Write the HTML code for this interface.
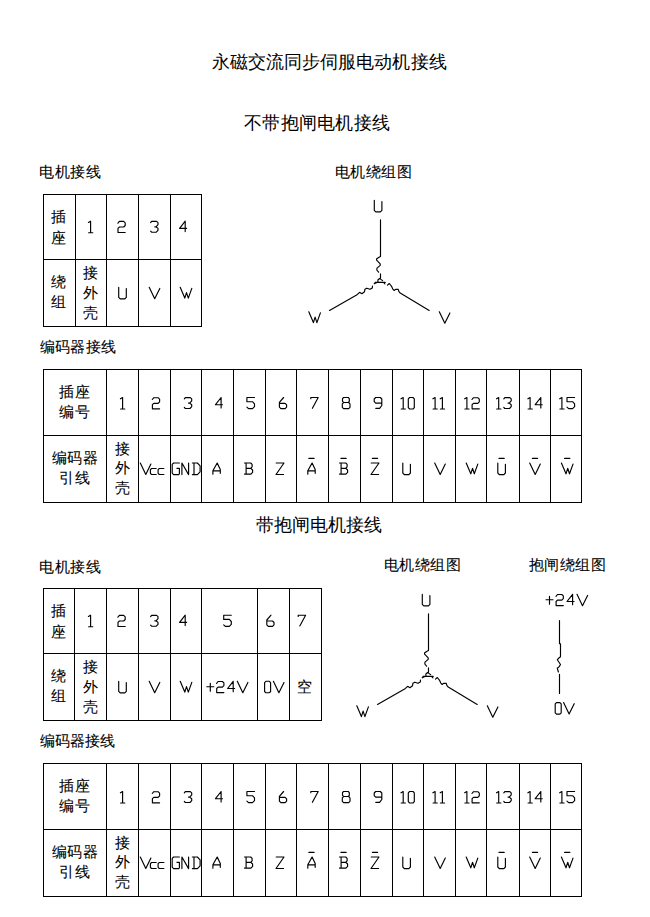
<!DOCTYPE html>
<html><head><meta charset="utf-8">
<style>
html,body{margin:0;padding:0;background:#fff;}
body{width:650px;height:917px;position:relative;overflow:hidden;}
.t{position:absolute;white-space:nowrap;line-height:1;font-family:"Liberation Sans",sans-serif;color:#000;}
.h{-webkit-text-stroke:0.08px #000;}
.c{-webkit-text-stroke:0.08px #000;}
svg{position:absolute;left:0;top:0;}
</style></head><body>
<svg width="650" height="917" viewBox="0 0 650 917">
<g fill="#000" shape-rendering="crispEdges"><rect x="43" y="194" width="159" height="1"/><rect x="43" y="259" width="159" height="1"/><rect x="43" y="326" width="159" height="1"/><rect x="43" y="194" width="1" height="133"/><rect x="75" y="194" width="1" height="133"/><rect x="106" y="194" width="1" height="133"/><rect x="138" y="194" width="1" height="133"/><rect x="170" y="194" width="1" height="133"/><rect x="201" y="194" width="1" height="133"/><rect x="43" y="588" width="279" height="1"/><rect x="43" y="653" width="279" height="1"/><rect x="43" y="720" width="279" height="1"/><rect x="43" y="588" width="1" height="133"/><rect x="74" y="588" width="1" height="133"/><rect x="106" y="588" width="1" height="133"/><rect x="138" y="588" width="1" height="133"/><rect x="170" y="588" width="1" height="133"/><rect x="201" y="588" width="1" height="133"/><rect x="257" y="588" width="1" height="133"/><rect x="289" y="588" width="1" height="133"/><rect x="321" y="588" width="1" height="133"/><rect x="43" y="369" width="539" height="1"/><rect x="43" y="435" width="539" height="1"/><rect x="43" y="502" width="539" height="1"/><rect x="43" y="369" width="1" height="134"/><rect x="106" y="369" width="1" height="134"/><rect x="138" y="369" width="1" height="134"/><rect x="170" y="369" width="1" height="134"/><rect x="201" y="369" width="1" height="134"/><rect x="233" y="369" width="1" height="134"/><rect x="265" y="369" width="1" height="134"/><rect x="296" y="369" width="1" height="134"/><rect x="328" y="369" width="1" height="134"/><rect x="360" y="369" width="1" height="134"/><rect x="392" y="369" width="1" height="134"/><rect x="423" y="369" width="1" height="134"/><rect x="455" y="369" width="1" height="134"/><rect x="486" y="369" width="1" height="134"/><rect x="519" y="369" width="1" height="134"/><rect x="550" y="369" width="1" height="134"/><rect x="581" y="369" width="1" height="134"/><rect x="43" y="763" width="539" height="1"/><rect x="43" y="829" width="539" height="1"/><rect x="43" y="896" width="539" height="1"/><rect x="43" y="763" width="1" height="134"/><rect x="106" y="763" width="1" height="134"/><rect x="138" y="763" width="1" height="134"/><rect x="170" y="763" width="1" height="134"/><rect x="201" y="763" width="1" height="134"/><rect x="233" y="763" width="1" height="134"/><rect x="265" y="763" width="1" height="134"/><rect x="296" y="763" width="1" height="134"/><rect x="328" y="763" width="1" height="134"/><rect x="360" y="763" width="1" height="134"/><rect x="392" y="763" width="1" height="134"/><rect x="423" y="763" width="1" height="134"/><rect x="455" y="763" width="1" height="134"/><rect x="486" y="763" width="1" height="134"/><rect x="519" y="763" width="1" height="134"/><rect x="550" y="763" width="1" height="134"/><rect x="581" y="763" width="1" height="134"/></g>
<g fill="none" stroke="#000" stroke-width="1.15" stroke-linejoin="round" stroke-linecap="round"><path transform="translate(88.40,221.20)" d="M0,1.3 L2.2,0 V11.5 M0.2,11.5 H4.4"/><path transform="translate(117.90,221.20)" d="M0,2 L1.5,0.2 H5.8 L7.3,1.6 V4.3 L5.8,5.8 H1.5 L0.1,7.2 V11.3 H7.3"/><path transform="translate(150.60,221.20)" d="M0,1.4 L1,0.1 H6 L7.4,1.4 V3.4 L5.4,5.6 M4.2,5.6 H5.4 L7.4,7.2 V9.2 L5.7,11 H1 L0,9.9"/><path transform="translate(179.60,221.20)" d="M7,7.2 H0 L5.6,0 V10.4"/><path transform="translate(118.70,287.30)" d="M0,0 V10 L1.5,11.6 H6.1 L7.6,10 V1.3"/><path transform="translate(149.20,287.30)" d="M0,0 L5.5,11.4 L10.6,1.1"/><path transform="translate(180.20,287.30)" d="M0,0 L4.6,10.8 L6.3,5.3 L8.1,10.8 L11.6,1.1"/><path transform="translate(88.40,615.20)" d="M0,1.3 L2.2,0 V11.5 M0.2,11.5 H4.4"/><path transform="translate(117.90,615.20)" d="M0,2 L1.5,0.2 H5.8 L7.3,1.6 V4.3 L5.8,5.8 H1.5 L0.1,7.2 V11.3 H7.3"/><path transform="translate(150.60,615.20)" d="M0,1.4 L1,0.1 H6 L7.4,1.4 V3.4 L5.4,5.6 M4.2,5.6 H5.4 L7.4,7.2 V9.2 L5.7,11 H1 L0,9.9"/><path transform="translate(179.60,615.20)" d="M7,7.2 H0 L5.6,0 V10.4"/><path transform="translate(223.70,615.20)" d="M7.6,0 H0 V4.2 H5.6 L7.6,6.3 V9.2 L5.6,11.1 H1.6 L0,9.6"/><path transform="translate(266.70,615.20)" d="M4.3,0 L0.1,4.8 V9.6 L1.6,11.1 H5.8 L7.3,9.6 V7.3 L5.8,5.8 H0.1"/><path transform="translate(298.20,615.20)" d="M0,1.2 V0 H7.4 L1.6,10.8"/><path transform="translate(118.70,681.30)" d="M0,0 V10 L1.5,11.6 H6.1 L7.6,10 V1.3"/><path transform="translate(149.20,681.30)" d="M0,0 L5.5,11.4 L10.6,1.1"/><path transform="translate(180.20,681.30)" d="M0,0 L4.6,10.8 L6.3,5.3 L8.1,10.8 L11.6,1.1"/><path transform="translate(206.80,682.80)" d="M0,4 H7 M3.5,0.5 V8.5"/><path transform="translate(216.60,681.30)" d="M0,2 L1.5,0.2 H5.8 L7.3,1.6 V4.3 L5.8,5.8 H1.5 L0.1,7.2 V11.3 H7.3"/><path transform="translate(227.60,681.30)" d="M7,7.2 H0 L5.6,0 V10.4"/><path transform="translate(237.30,681.30)" d="M0,0 L5.5,11.4 L10.6,1.1"/><path transform="translate(264.60,681.30)" d="M1.3,0 H4.7 L6,1.3 V10.2 L4.7,11.5 H1.3 L0,10.2 V1.3 Z"/><path transform="translate(273.40,681.30)" d="M0,0 L5.5,11.4 L10.6,1.1"/><path transform="translate(120.40,397.50)" d="M0,1.3 L2.2,0 V11.5 M0.2,11.5 H4.4"/><path transform="translate(152.30,397.50)" d="M0,2 L1.5,0.2 H5.8 L7.3,1.6 V4.3 L5.8,5.8 H1.5 L0.1,7.2 V11.3 H7.3"/><path transform="translate(184.30,397.50)" d="M0,1.4 L1,0.1 H6 L7.4,1.4 V3.4 L5.4,5.6 M4.2,5.6 H5.4 L7.4,7.2 V9.2 L5.7,11 H1 L0,9.9"/><path transform="translate(215.50,397.50)" d="M7,7.2 H0 L5.6,0 V10.4"/><path transform="translate(246.90,397.50)" d="M7.6,0 H0 V4.2 H5.6 L7.6,6.3 V9.2 L5.6,11.1 H1.6 L0,9.6"/><path transform="translate(279.30,397.50)" d="M4.3,0 L0.1,4.8 V9.6 L1.6,11.1 H5.8 L7.3,9.6 V7.3 L5.8,5.8 H0.1"/><path transform="translate(310.80,397.50)" d="M0,1.2 V0 H7.4 L1.6,10.8"/><path transform="translate(342.30,397.50)" d="M1.3,0 H5.9 L7,1.2 V3.8 L5.9,5 H1.3 L0.2,3.8 V1.2 Z M1.3,5 L0,6.3 V9.8 L1.3,11.1 H6.4 L7.7,9.8 V6.3 L6.4,5"/><path transform="translate(374.20,397.50)" d="M7.6,5.6 H1.5 L0,4.1 V1.5 L1.5,0 H6.1 L7.6,1.5 V8 L5.4,10.9 H1.6"/><path transform="translate(401.00,397.50)" d="M0,1.3 L2.2,0 V11.5 M0.2,11.5 H4.4"/><path transform="translate(408.30,397.50)" d="M1.3,0 H4.7 L6,1.3 V10.2 L4.7,11.5 H1.3 L0,10.2 V1.3 Z"/><path transform="translate(432.90,397.50)" d="M0,1.3 L2.2,0 V11.5 M0.2,11.5 H4.4"/><path transform="translate(440.20,397.50)" d="M0,1.3 L2.2,0 V11.5 M0.2,11.5 H4.4"/><path transform="translate(464.70,397.50)" d="M0,1.3 L2.2,0 V11.5 M0.2,11.5 H4.4"/><path transform="translate(472.00,397.50)" d="M0,2 L1.5,0.2 H5.8 L7.3,1.6 V4.3 L5.8,5.8 H1.5 L0.1,7.2 V11.3 H7.3"/><path transform="translate(496.50,397.50)" d="M0,1.3 L2.2,0 V11.5 M0.2,11.5 H4.4"/><path transform="translate(503.80,397.50)" d="M0,1.4 L1,0.1 H6 L7.4,1.4 V3.4 L5.4,5.6 M4.2,5.6 H5.4 L7.4,7.2 V9.2 L5.7,11 H1 L0,9.9"/><path transform="translate(527.90,397.50)" d="M0,1.3 L2.2,0 V11.5 M0.2,11.5 H4.4"/><path transform="translate(535.20,397.50)" d="M7,7.2 H0 L5.6,0 V10.4"/><path transform="translate(559.70,397.50)" d="M0,1.3 L2.2,0 V11.5 M0.2,11.5 H4.4"/><path transform="translate(567.00,397.50)" d="M7.6,0 H0 V4.2 H5.6 L7.6,6.3 V9.2 L5.6,11.1 H1.6 L0,9.6"/><path transform="translate(140.30,463.00)" d="M0,0 L5.5,11.4 L10.6,1.1"/><path transform="translate(150.40,468.50)" d="M5.8,0 H1.2 L0,1.2 V4.8 L1.2,6 H5.8"/><path transform="translate(158.10,468.50)" d="M5.8,0 H1.2 L0,1.2 V4.8 L1.2,6 H5.8"/><path transform="translate(172.20,463.00)" d="M7.2,0 H1.4 L0,1.4 V10.2 L1.4,11.6 H6.4 L7.2,10.8 V5.3 H4.7"/><path transform="translate(181.60,463.00)" d="M0.3,11.6 V0 L7,11.6 V0"/><path transform="translate(192.40,463.00)" d="M1.6,0 V11.6 M0,0 H5 L7.7,2.8 V8.8 L5,11.6 H0"/><path transform="translate(212.60,463.00)" d="M0.3,11.2 V7.8 L4.6,0 L7.7,6.6 V10.3 M0.3,7.8 H7.7"/><path transform="translate(244.50,463.00)" d="M0,0 H6.2 L7.6,1.4 V3.8 L6.2,5.3 H1.6 M6.2,5.3 L8.1,7 V9.4 L6.4,11.1 H0 M1.6,0 V11.1"/><path transform="translate(276.00,463.00)" d="M0.2,0 H8 L0,11.5 H7.6"/><path transform="translate(307.50,463.00)" d="M0.3,11.2 V7.8 L4.6,0 L7.7,6.6 V10.3 M0.3,7.8 H7.7"/><path d="M308.85,458.40 H314.05"/><path transform="translate(339.50,463.00)" d="M0,0 H6.2 L7.6,1.4 V3.8 L6.2,5.3 H1.6 M6.2,5.3 L8.1,7 V9.4 L6.4,11.1 H0 M1.6,0 V11.1"/><path d="M340.95,458.40 H346.15"/><path transform="translate(371.00,463.00)" d="M0.2,0 H8 L0,11.5 H7.6"/><path d="M372.40,458.40 H377.60"/><path transform="translate(402.80,463.00)" d="M0,0 V10 L1.5,11.6 H6.1 L7.6,10 V1.3"/><path transform="translate(434.70,463.00)" d="M0,0 L5.5,11.4 L10.6,1.1"/><path transform="translate(466.20,463.00)" d="M0,0 L4.6,10.8 L6.3,5.3 L8.1,10.8 L11.6,1.1"/><path transform="translate(497.80,463.00)" d="M0,0 V10 L1.5,11.6 H6.1 L7.6,10 V1.3"/><path d="M499.00,458.40 H504.20"/><path transform="translate(529.70,463.00)" d="M0,0 L5.5,11.4 L10.6,1.1"/><path d="M532.40,458.40 H537.60"/><path transform="translate(561.40,463.00)" d="M0,0 L4.6,10.8 L6.3,5.3 L8.1,10.8 L11.6,1.1"/><path d="M564.60,458.40 H569.80"/><path transform="translate(120.40,791.50)" d="M0,1.3 L2.2,0 V11.5 M0.2,11.5 H4.4"/><path transform="translate(152.30,791.50)" d="M0,2 L1.5,0.2 H5.8 L7.3,1.6 V4.3 L5.8,5.8 H1.5 L0.1,7.2 V11.3 H7.3"/><path transform="translate(184.30,791.50)" d="M0,1.4 L1,0.1 H6 L7.4,1.4 V3.4 L5.4,5.6 M4.2,5.6 H5.4 L7.4,7.2 V9.2 L5.7,11 H1 L0,9.9"/><path transform="translate(215.50,791.50)" d="M7,7.2 H0 L5.6,0 V10.4"/><path transform="translate(246.90,791.50)" d="M7.6,0 H0 V4.2 H5.6 L7.6,6.3 V9.2 L5.6,11.1 H1.6 L0,9.6"/><path transform="translate(279.30,791.50)" d="M4.3,0 L0.1,4.8 V9.6 L1.6,11.1 H5.8 L7.3,9.6 V7.3 L5.8,5.8 H0.1"/><path transform="translate(310.80,791.50)" d="M0,1.2 V0 H7.4 L1.6,10.8"/><path transform="translate(342.30,791.50)" d="M1.3,0 H5.9 L7,1.2 V3.8 L5.9,5 H1.3 L0.2,3.8 V1.2 Z M1.3,5 L0,6.3 V9.8 L1.3,11.1 H6.4 L7.7,9.8 V6.3 L6.4,5"/><path transform="translate(374.20,791.50)" d="M7.6,5.6 H1.5 L0,4.1 V1.5 L1.5,0 H6.1 L7.6,1.5 V8 L5.4,10.9 H1.6"/><path transform="translate(401.00,791.50)" d="M0,1.3 L2.2,0 V11.5 M0.2,11.5 H4.4"/><path transform="translate(408.30,791.50)" d="M1.3,0 H4.7 L6,1.3 V10.2 L4.7,11.5 H1.3 L0,10.2 V1.3 Z"/><path transform="translate(432.90,791.50)" d="M0,1.3 L2.2,0 V11.5 M0.2,11.5 H4.4"/><path transform="translate(440.20,791.50)" d="M0,1.3 L2.2,0 V11.5 M0.2,11.5 H4.4"/><path transform="translate(464.70,791.50)" d="M0,1.3 L2.2,0 V11.5 M0.2,11.5 H4.4"/><path transform="translate(472.00,791.50)" d="M0,2 L1.5,0.2 H5.8 L7.3,1.6 V4.3 L5.8,5.8 H1.5 L0.1,7.2 V11.3 H7.3"/><path transform="translate(496.50,791.50)" d="M0,1.3 L2.2,0 V11.5 M0.2,11.5 H4.4"/><path transform="translate(503.80,791.50)" d="M0,1.4 L1,0.1 H6 L7.4,1.4 V3.4 L5.4,5.6 M4.2,5.6 H5.4 L7.4,7.2 V9.2 L5.7,11 H1 L0,9.9"/><path transform="translate(527.90,791.50)" d="M0,1.3 L2.2,0 V11.5 M0.2,11.5 H4.4"/><path transform="translate(535.20,791.50)" d="M7,7.2 H0 L5.6,0 V10.4"/><path transform="translate(559.70,791.50)" d="M0,1.3 L2.2,0 V11.5 M0.2,11.5 H4.4"/><path transform="translate(567.00,791.50)" d="M7.6,0 H0 V4.2 H5.6 L7.6,6.3 V9.2 L5.6,11.1 H1.6 L0,9.6"/><path transform="translate(140.30,857.00)" d="M0,0 L5.5,11.4 L10.6,1.1"/><path transform="translate(150.40,862.50)" d="M5.8,0 H1.2 L0,1.2 V4.8 L1.2,6 H5.8"/><path transform="translate(158.10,862.50)" d="M5.8,0 H1.2 L0,1.2 V4.8 L1.2,6 H5.8"/><path transform="translate(172.20,857.00)" d="M7.2,0 H1.4 L0,1.4 V10.2 L1.4,11.6 H6.4 L7.2,10.8 V5.3 H4.7"/><path transform="translate(181.60,857.00)" d="M0.3,11.6 V0 L7,11.6 V0"/><path transform="translate(192.40,857.00)" d="M1.6,0 V11.6 M0,0 H5 L7.7,2.8 V8.8 L5,11.6 H0"/><path transform="translate(212.60,857.00)" d="M0.3,11.2 V7.8 L4.6,0 L7.7,6.6 V10.3 M0.3,7.8 H7.7"/><path transform="translate(244.50,857.00)" d="M0,0 H6.2 L7.6,1.4 V3.8 L6.2,5.3 H1.6 M6.2,5.3 L8.1,7 V9.4 L6.4,11.1 H0 M1.6,0 V11.1"/><path transform="translate(276.00,857.00)" d="M0.2,0 H8 L0,11.5 H7.6"/><path transform="translate(307.50,857.00)" d="M0.3,11.2 V7.8 L4.6,0 L7.7,6.6 V10.3 M0.3,7.8 H7.7"/><path d="M308.85,852.40 H314.05"/><path transform="translate(339.50,857.00)" d="M0,0 H6.2 L7.6,1.4 V3.8 L6.2,5.3 H1.6 M6.2,5.3 L8.1,7 V9.4 L6.4,11.1 H0 M1.6,0 V11.1"/><path d="M340.95,852.40 H346.15"/><path transform="translate(371.00,857.00)" d="M0.2,0 H8 L0,11.5 H7.6"/><path d="M372.40,852.40 H377.60"/><path transform="translate(402.80,857.00)" d="M0,0 V10 L1.5,11.6 H6.1 L7.6,10 V1.3"/><path transform="translate(434.70,857.00)" d="M0,0 L5.5,11.4 L10.6,1.1"/><path transform="translate(466.20,857.00)" d="M0,0 L4.6,10.8 L6.3,5.3 L8.1,10.8 L11.6,1.1"/><path transform="translate(497.80,857.00)" d="M0,0 V10 L1.5,11.6 H6.1 L7.6,10 V1.3"/><path d="M499.00,852.40 H504.20"/><path transform="translate(529.70,857.00)" d="M0,0 L5.5,11.4 L10.6,1.1"/><path d="M532.40,852.40 H537.60"/><path transform="translate(561.40,857.00)" d="M0,0 L4.6,10.8 L6.3,5.3 L8.1,10.8 L11.6,1.1"/><path d="M564.60,852.40 H569.80"/><path transform="translate(0,0)" d="M380.5,219.8 V256.5 L378.6,257.5 L376.5,259 L376.6,260.2 L380.2,263.8 V265.4 L377,268.1 L376.8,270 L378.6,272.2 M380.5,273.8 V278 M377.9,282 V280 L379.6,278.4 L382.6,280.6 M375,282.4 H385.2 M376.9,282.4 L374.2,283.8 M372.5,286.1 L372.3,287.9 L370,289.3 L366.8,288.2 L364.9,289.3 L364.5,291.8 L361.9,293.7 L359.6,292.3 L356.6,295.1 L329.5,310.4 M383.5,282.4 L384.9,283.8 M387.5,285.2 L389.3,283.5 L391.4,286.1 L392.8,289.1 L394.2,290.5 L395.5,289.3 L398.3,289.3 L398.8,291.4 L400.2,293 L429.2,310.4"/><path transform="translate(374.30,200.30)" d="M0,0 V10 L1.5,11.6 H6.1 L7.6,10 V1.3"/><path transform="translate(308.80,311.80)" d="M0,0 L4.6,10.8 L6.3,5.3 L8.1,10.8 L11.6,1.1"/><path transform="translate(439.30,311.80)" d="M0,0 L5.5,11.4 L10.6,1.1"/><path transform="translate(48,394)" d="M380.5,219.8 V256.5 L378.6,257.5 L376.5,259 L376.6,260.2 L380.2,263.8 V265.4 L377,268.1 L376.8,270 L378.6,272.2 M380.5,273.8 V278 M377.9,282 V280 L379.6,278.4 L382.6,280.6 M375,282.4 H385.2 M376.9,282.4 L374.2,283.8 M372.5,286.1 L372.3,287.9 L370,289.3 L366.8,288.2 L364.9,289.3 L364.5,291.8 L361.9,293.7 L359.6,292.3 L356.6,295.1 L329.5,310.4 M383.5,282.4 L384.9,283.8 M387.5,285.2 L389.3,283.5 L391.4,286.1 L392.8,289.1 L394.2,290.5 L395.5,289.3 L398.3,289.3 L398.8,291.4 L400.2,293 L429.2,310.4"/><path transform="translate(422.30,594.30)" d="M0,0 V10 L1.5,11.6 H6.1 L7.6,10 V1.3"/><path transform="translate(356.80,705.80)" d="M0,0 L4.6,10.8 L6.3,5.3 L8.1,10.8 L11.6,1.1"/><path transform="translate(487.30,705.80)" d="M0,0 L5.5,11.4 L10.6,1.1"/><path d="M559.5,620.5 V643.7 H560.5 V656.8 L558.6,658.2 L557.3,659.8 L560.5,664.5 L559.2,666.6 L557.3,668.3 L558.4,672 M559.5,674.3 V693.5"/><path transform="translate(546.00,595.80)" d="M0,4 H7 M3.5,0.5 V8.5"/><path transform="translate(556.00,594.30)" d="M0,2 L1.5,0.2 H5.8 L7.3,1.6 V4.3 L5.8,5.8 H1.5 L0.1,7.2 V11.3 H7.3"/><path transform="translate(567.00,594.30)" d="M7,7.2 H0 L5.6,0 V10.4"/><path transform="translate(577.00,594.30)" d="M0,0 L5.5,11.4 L10.6,1.1"/><path transform="translate(555.20,702.60)" d="M1.3,0 H4.7 L6,1.3 V10.2 L4.7,11.5 H1.3 L0,10.2 V1.3 Z"/><path transform="translate(563.60,702.60)" d="M0,0 L5.5,11.4 L10.6,1.1"/></g>
</svg>
<div class="t" style="left:211.5px;top:52.5px;font-size:18px;letter-spacing:0.1px">永磁交流同步伺服电动机接线</div>
<div class="t" style="left:244px;top:113.5px;font-size:18px;letter-spacing:0.3px">不带抱闸电机接线</div>
<div class="t" style="left:255.5px;top:515.5px;font-size:18px">带抱闸电机接线</div>
<div class="t h" style="left:39px;top:164px;font-size:15px;letter-spacing:0.7px">电机接线</div>
<div class="t h" style="left:335px;top:164px;font-size:15px;letter-spacing:0.4px">电机绕组图</div>
<div class="t h" style="left:40px;top:339px;font-size:15px;letter-spacing:0.2px">编码器接线</div>
<div class="t h" style="left:39px;top:558.5px;font-size:15px;letter-spacing:0.7px">电机接线</div>
<div class="t h" style="left:384px;top:557px;font-size:15px;letter-spacing:0.4px">电机绕组图</div>
<div class="t h" style="left:529px;top:557px;font-size:15px;letter-spacing:0.4px">抱闸绕组图</div>
<div class="t h" style="left:39.5px;top:733px;font-size:15px;letter-spacing:0.2px">编码器接线</div>
<div class="t c" style="left:50.8px;top:209px;font-size:15px">插</div>
<div class="t c" style="left:50.8px;top:229.5px;font-size:15px">座</div>
<div class="t c" style="left:50.8px;top:273.5px;font-size:15px">绕</div>
<div class="t c" style="left:50.8px;top:293.5px;font-size:15px">组</div>
<div class="t c" style="left:82.8px;top:265px;font-size:15px">接</div>
<div class="t c" style="left:82.8px;top:284.7px;font-size:15px">外</div>
<div class="t c" style="left:82.8px;top:305.2px;font-size:15px">壳</div>
<div class="t c" style="left:50.8px;top:603px;font-size:15px">插</div>
<div class="t c" style="left:50.8px;top:623.5px;font-size:15px">座</div>
<div class="t c" style="left:50.8px;top:667.5px;font-size:15px">绕</div>
<div class="t c" style="left:50.8px;top:687.5px;font-size:15px">组</div>
<div class="t c" style="left:82.8px;top:659px;font-size:15px">接</div>
<div class="t c" style="left:82.8px;top:678.7px;font-size:15px">外</div>
<div class="t c" style="left:82.8px;top:699.2px;font-size:15px">壳</div>
<div class="t c" style="left:297.3px;top:678.5px;font-size:15px">空</div>
<div class="t c" style="left:59px;top:384px;font-size:15px;letter-spacing:0.8px">插座</div>
<div class="t c" style="left:59px;top:404px;font-size:15px;letter-spacing:0.8px">编号</div>
<div class="t c" style="left:51.8px;top:450px;font-size:15px;letter-spacing:0.4px">编码器</div>
<div class="t c" style="left:59px;top:470.3px;font-size:15px;letter-spacing:0.8px">引线</div>
<div class="t c" style="left:114.7px;top:441px;font-size:15px">接</div>
<div class="t c" style="left:114.7px;top:460.3px;font-size:15px">外</div>
<div class="t c" style="left:114.7px;top:480.3px;font-size:15px">壳</div>
<div class="t c" style="left:59px;top:778px;font-size:15px;letter-spacing:0.8px">插座</div>
<div class="t c" style="left:59px;top:798px;font-size:15px;letter-spacing:0.8px">编号</div>
<div class="t c" style="left:51.8px;top:844px;font-size:15px;letter-spacing:0.4px">编码器</div>
<div class="t c" style="left:59px;top:864.3px;font-size:15px;letter-spacing:0.8px">引线</div>
<div class="t c" style="left:114.7px;top:835px;font-size:15px">接</div>
<div class="t c" style="left:114.7px;top:854.3px;font-size:15px">外</div>
<div class="t c" style="left:114.7px;top:874.3px;font-size:15px">壳</div>
</body></html>
